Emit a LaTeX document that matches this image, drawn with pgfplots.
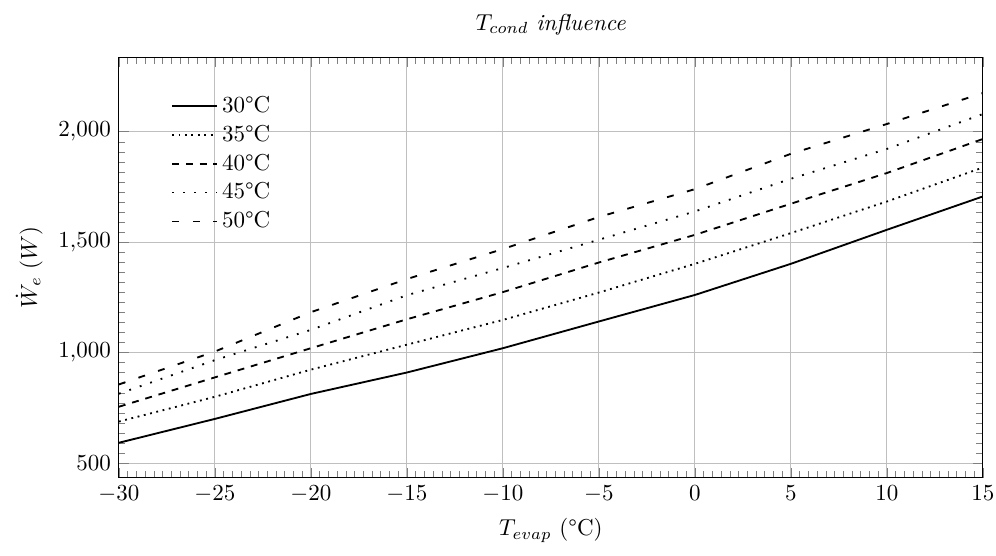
\documentclass[border=0pt]{standalone}
\usepackage{pgfplots}
\pgfplotsset{compat=1.18}
\pgfplotstableread{
x     a     b     c     d     e
-30   592   688   755   814   856
-25   700   800   888   966   1005
-20   813   923   1020  1103  1183
-15   910   1036  1151  1260  1333
-10   1020  1148  1274  1383  1469
-5    1141  1272  1408  1511  1614
0     1261  1402  1533  1639  1740
5     1402  1541  1674  1787  1900
10    1556  1684  1813  1922  2035
15    1707  1838  1967  2080  2175
}\datatable
\begin{document}
\begin{tikzpicture}
\useasboundingbox (-51.7pt,-33.9pt) rectangle (381.4pt,207.8pt);
\begin{axis}[
  scale only axis, width=375.7pt, height=183pt,
  xmin=-30, xmax=15, ymin=433, ymax=2338,
  enlargelimits=false,
  xtick={-30,-25,...,15}, ytick={500,1000,1500,2000},
  minor tick num=10,
  grid=major,
  title={$T_{cond}$ \textit{influence}},
  xlabel={$T_{evap}$ (°C)},
  ylabel={$\dot{W}_e$ $(W)$},
  legend style={draw=none, fill=none, at={(0.052,0.93)}, anchor=north west},
  legend cell align=left,
  legend image code/.code={\draw[mark repeat=2,mark phase=2,#1] plot coordinates {(0cm,0cm) (0.34cm,0cm) (0.68cm,0cm)};},
]
\addplot[black, thick] table[x=x, y=a] {\datatable};
\addlegendentry{30°C}
\addplot[black, thick, dotted] table[x=x, y=b] {\datatable};
\addlegendentry{35°C}
\addplot[black, thick, dashed] table[x=x, y=c] {\datatable};
\addlegendentry{40°C}
\addplot[black, thick, loosely dotted] table[x=x, y=d] {\datatable};
\addlegendentry{45°C}
\addplot[black, thick, loosely dashed] table[x=x, y=e] {\datatable};
\addlegendentry{50°C}
\end{axis}
\end{tikzpicture}
\end{document}
